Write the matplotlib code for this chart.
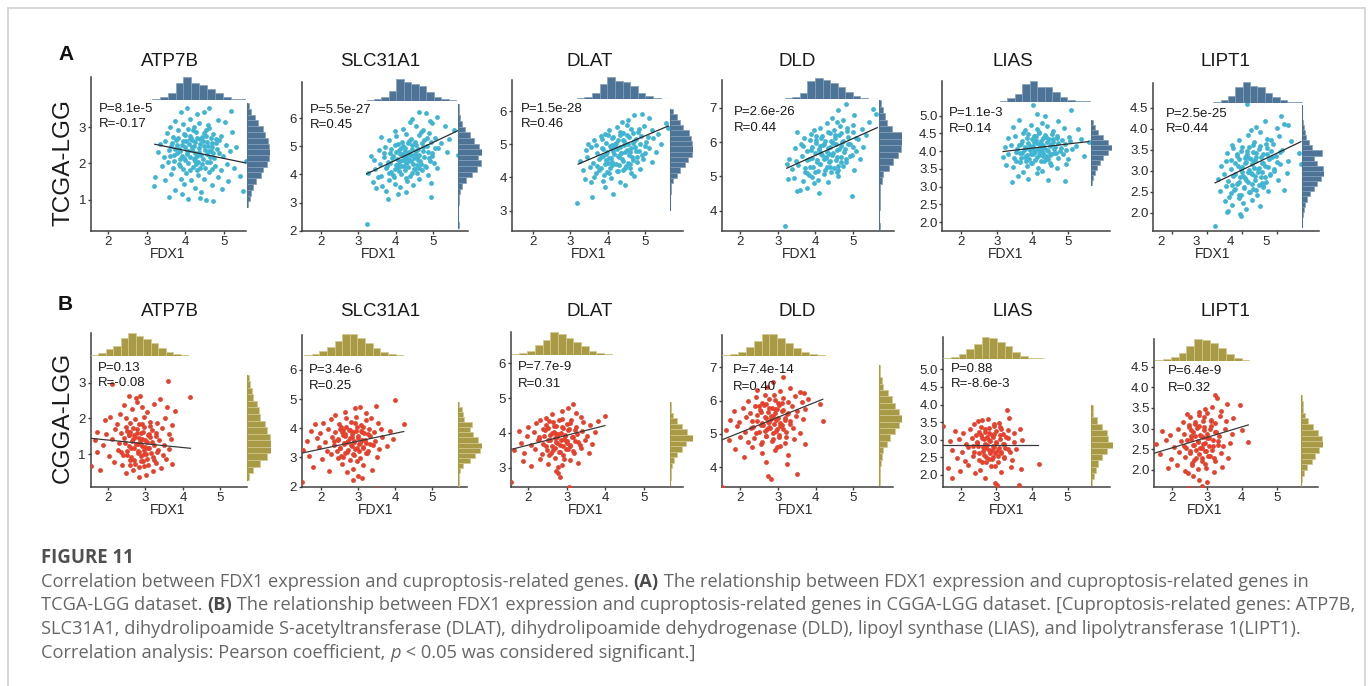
import numpy as np
import matplotlib
matplotlib.use("Agg")
import matplotlib.pyplot as plt
import matplotlib.transforms as mtransforms
from matplotlib.patches import Rectangle
from matplotlib.ticker import FormatStrFormatter

plt.rcParams['font.family'] = ['Liberation Sans', 'DejaVu Sans']

# ---------------------------------------------------------------- data
genes = ["ATP7B", "SLC31A1", "DLAT", "DLD", "LIAS", "LIPT1"]
row_names = ["TCGA-LGG", "CGGA-LGG"]
panel_letters = ["A", "B"]
x_label = "FDX1"
x_ticks = [2, 3, 4, 5]

tcga_p = ["8.1e-5", "5.5e-27", "1.5e-28", "2.6e-26", "1.1e-3", "2.5e-25"]
tcga_r = ["-0.17", "0.45", "0.46", "0.44", "0.14", "0.44"]
cgga_p = ["0.13", "3.4e-6", "7.7e-9", "7.4e-14", "0.88", "6.4e-9"]
cgga_r = ["-0.08", "0.25", "0.31", "0.40", "-8.6e-3", "0.32"]

tcga_yticks = [[1, 2, 3], [2, 3, 4, 5, 6], [3, 4, 5, 6], [4, 5, 6, 7],
               [2.0, 2.5, 3.0, 3.5, 4.0, 4.5, 5.0], [2.0, 2.5, 3.0, 3.5, 4.0, 4.5]]
cgga_yticks = [[1, 2, 3], [2, 3, 4, 5, 6], [3, 4, 5, 6], [4, 5, 6, 7],
               [2.0, 2.5, 3.0, 3.5, 4.0, 4.5, 5.0], [2.0, 2.5, 3.0, 3.5, 4.0, 4.5]]

# regression line end points
tcga_fit_x = [[3.21, 5.57], [3.22, 5.67], [3.21, 5.63], [3.24, 5.64], [3.18, 5.57], [3.24, 5.69]]
tcga_fit_y = [[2.53, 2.01], [4.02, 5.56], [4.40, 5.55], [5.24, 6.42], [3.99, 4.27], [2.71, 3.69]]
cgga_fit_x = [[1.54, 4.20], [1.48, 4.23], [1.57, 3.99], [1.52, 4.19], [1.48, 4.18], [1.48, 4.19]]
cgga_fit_y = [[1.44, 1.16], [3.15, 3.89], [3.53, 4.21], [4.82, 6.04], [2.85, 2.85], [2.40, 3.09]]

# marginal histograms (FDX1 on top, gene on the right)
tcga_xh_start = [3.13, 3.22, 3.17, 3.19, 3.09, 3.19]
tcga_xh_step = [0.205, 0.2, 0.205, 0.2, 0.21, 0.21]
tcga_xh_counts = [
    [3, 8, 22, 50, 68, 50, 45, 32, 20, 8, 4, 2],
    [3, 6, 12, 30, 65, 55, 50, 45, 25, 10, 5, 2],
    [3, 8, 20, 45, 65, 55, 52, 38, 20, 10, 4, 2],
    [3, 8, 20, 55, 63, 58, 50, 38, 22, 10, 4, 2, 1],
    [3, 10, 22, 52, 62, 45, 45, 30, 15, 6, 3, 2],
    [3, 8, 20, 48, 63, 50, 48, 30, 18, 8, 3, 2]]
tcga_yh_start = [0.79, 2.1, 3.02, 3.475, 3.05, 1.657]
tcga_yh_step = [0.16, 0.2, 0.16, 0.187, 0.14, 0.1216]
tcga_yh_counts = [
    [3, 8, 13, 18, 28, 40, 48, 58, 66, 68, 66, 63, 53, 48, 33, 23, 13, 5],
    [1, 0, 0, 0, 2, 3, 5, 10, 22, 40, 55, 68, 58, 70, 62, 48, 35, 20, 12, 6, 3, 2],
    [1, 1, 1, 2, 4, 10, 20, 30, 45, 55, 65, 68, 65, 62, 58, 40, 30, 20, 8],
    [1, 0, 0, 1, 1, 2, 2, 7, 12, 30, 42, 57, 64, 69, 67, 37, 22, 17, 12, 4],
    [3, 6, 13, 18, 28, 36, 53, 65, 53, 38, 23, 13, 8],
    [1, 1, 3, 6, 10, 15, 25, 35, 45, 55, 65, 62, 45, 35, 58, 30, 20, 12, 10, 8, 5, 2, 1, 1]]

cgga_xh_start = [1.54, 1.54, 1.57, 1.52, 1.5, 1.52]
cgga_xh_step = [0.2, 0.206, 0.2, 0.21, 0.216, 0.225]
cgga_xh_counts = [
    [3, 8, 20, 30, 55, 68, 60, 50, 38, 25, 12, 6, 3],
    [3, 6, 15, 28, 45, 65, 65, 55, 40, 25, 12, 5, 2],
    [2, 5, 12, 30, 45, 68, 62, 50, 38, 25, 12, 5, 2],
    [2, 5, 12, 28, 45, 65, 65, 55, 40, 25, 12, 5, 2],
    [2, 6, 15, 30, 45, 67, 63, 52, 38, 22, 10, 3, 2],
    [2, 5, 12, 25, 45, 65, 62, 55, 40, 22, 10, 3]]
cgga_yh_start = [0.28, 1.946, 2.5, 3.47, 1.71, 1.581]
cgga_yh_step = [0.184, 0.174, 0.16, 0.19, 0.175, 0.139]
cgga_yh_counts = [
    [6, 18, 38, 58, 68, 68, 66, 58, 50, 38, 33, 28, 18, 13, 8, 6],
    [1, 2, 3, 5, 15, 35, 50, 65, 70, 60, 45, 35, 40, 17, 13, 10, 3],
    [1, 2, 3, 6, 12, 22, 35, 48, 68, 52, 35, 22, 10, 4, 2],
    [2, 2, 3, 5, 8, 13, 23, 33, 48, 61, 68, 61, 48, 38, 28, 13, 8, 4, 2],
    [3, 10, 15, 22, 32, 47, 67, 52, 47, 32, 17, 7, 7],
    [1, 4, 9, 17, 32, 42, 55, 67, 62, 52, 37, 22, 12, 7, 5, 3]]

# scatter points (FDX1, gene)
tcga_atp7b = [
    (4.05, 3.52), (4.62, 3.54), (3.88, 3.41), (5.18, 3.45), (4.31, 3.36), (4.47, 3.42),
    (3.72, 3.18), (4.12, 3.24), (4.36, 3.12), (4.58, 3.05), (3.95, 3.08), (4.83, 3.21), (4.21, 3.02), (3.61, 3.01), (5.02, 3.14),
    (3.52, 2.84), (3.81, 2.92), (3.99, 2.78), (4.08, 2.95), (4.27, 2.86), (4.44, 2.74), (4.52, 2.91), (4.71, 2.82), (4.93, 2.77),
    (4.15, 2.71), (3.68, 2.73), (4.62, 2.98), (5.21, 2.88),
    (3.35, 2.55), (3.47, 2.63), (3.64, 2.48), (3.77, 2.66), (3.91, 2.52), (4.02, 2.61), (4.18, 2.45), (4.24, 2.58), (4.39, 2.67),
    (4.48, 2.49), (4.57, 2.60), (4.69, 2.44), (4.78, 2.57), (4.88, 2.65), (5.05, 2.51), (5.30, 2.46), (4.11, 2.68), (3.84, 2.41),
    (3.28, 2.31), (3.44, 2.18), (3.58, 2.36), (3.71, 2.22), (3.86, 2.33), (3.97, 2.14), (4.05, 2.27), (4.16, 2.38), (4.29, 2.20),
    (4.35, 2.31), (4.46, 2.12), (4.55, 2.26), (4.66, 2.35), (4.74, 2.16), (4.86, 2.29), (4.98, 2.21), (5.14, 2.34), (5.57, 2.08),
    (4.21, 2.11), (3.79, 2.29),
    (3.39, 1.92), (3.55, 2.04), (3.69, 1.86), (3.83, 1.98), (3.94, 1.84), (4.07, 2.02), (4.19, 1.90), (4.31, 1.81), (4.42, 1.97),
    (4.51, 1.88), (4.63, 2.05), (4.77, 1.93), (4.91, 1.83), (5.08, 1.99), (5.26, 1.87), (4.25, 2.07),
    (3.22, 1.62), (3.63, 1.71), (3.88, 1.58), (4.01, 1.74), (4.14, 1.55), (4.33, 1.68), (4.49, 1.57), (4.61, 1.76), (4.84, 1.63),
    (5.11, 1.52), (5.42, 1.66), (3.47, 1.53),
    (3.18, 1.38), (3.74, 1.27), (3.96, 1.44), (4.26, 1.31), (4.41, 1.22), (4.68, 1.41), (4.95, 1.29), (5.48, 1.24),
    (3.57, 1.06), (4.06, 1.02), (4.38, 1.05), (4.52, 0.99), (4.72, 0.97), (3.92, 1.15)]
tcga_atp7b_core = [
    (3.66, 2.57), (3.74, 2.39), (3.82, 2.71), (3.90, 2.21), (3.93, 2.62), (3.98, 2.44), (4.03, 2.35), (4.09, 2.53), (4.13, 2.19),
    (4.17, 2.64), (4.22, 2.48), (4.26, 2.29), (4.30, 2.71), (4.34, 2.42), (4.37, 2.55), (4.41, 2.24), (4.45, 2.63), (4.50, 2.38),
    (4.54, 2.77), (4.59, 2.47), (4.63, 2.18), (4.68, 2.56), (4.72, 2.29), (4.79, 2.68), (4.82, 2.41), (3.71, 2.06), (3.87, 1.93),
    (4.00, 2.09), (4.11, 1.81), (4.28, 1.99), (4.39, 1.88), (4.56, 2.03), (4.70, 1.84), (3.96, 2.82), (4.19, 2.91), (4.47, 2.85),
    (3.79, 2.50), (4.08, 2.33), (4.24, 2.16), (4.60, 2.33), (3.85, 2.12), (4.33, 2.05), (4.12, 2.76), (4.66, 2.71), (3.59, 2.21)]

tcga_slc31a1 = [
    (4.62, 6.21), (4.81, 6.18), (4.45, 5.98), (5.12, 6.05), (4.93, 5.92),
    (4.21, 5.62), (4.55, 5.71), (4.74, 5.58), (4.98, 5.83), (5.31, 5.74), (4.38, 5.86), (5.55, 5.60), (4.67, 5.52), (3.98, 5.55),
    (3.81, 5.22), (4.02, 5.36), (4.17, 5.14), (4.29, 5.45), (4.41, 5.28), (4.52, 5.17), (4.63, 5.39), (4.76, 5.24), (4.89, 5.48),
    (5.05, 5.31), (5.22, 5.12), (4.33, 5.11), (3.62, 5.35), (5.42, 5.27), (4.95, 5.15),
    (3.55, 4.86), (3.72, 4.98), (3.86, 4.75), (3.97, 5.04), (4.08, 4.88), (4.16, 4.72), (4.25, 4.95), (4.36, 4.81), (4.44, 5.06),
    (4.53, 4.74), (4.61, 4.92), (4.72, 4.85), (4.84, 5.02), (4.97, 4.78), (5.13, 4.93), (5.37, 4.80), (5.66, 4.71), (4.28, 4.70), (4.02, 4.79),
    (3.42, 4.52), (3.58, 4.38), (3.69, 4.61), (3.80, 4.44), (3.91, 4.57), (4.01, 4.33), (4.11, 4.49), (4.19, 4.64), (4.27, 4.41),
    (4.35, 4.55), (4.47, 4.36), (4.56, 4.62), (4.66, 4.47), (4.79, 4.31), (4.90, 4.58), (5.02, 4.40), (3.33, 4.65), (4.42, 4.68), (4.23, 4.31),
    (3.27, 4.05), (3.46, 4.18), (3.61, 3.96), (3.75, 4.22), (3.88, 4.08), (3.96, 3.92), (4.06, 4.26), (4.14, 4.02), (4.24, 4.15),
    (4.38, 3.94), (4.49, 4.21), (4.58, 4.06), (4.71, 4.17), (4.86, 3.98), (5.10, 4.24), (3.52, 3.91),
    (3.38, 3.72), (3.64, 3.58), (3.83, 3.81), (3.99, 3.66), (4.12, 3.54), (4.31, 3.77), (4.46, 3.62), (4.62, 3.85), (4.96, 3.70), (3.48, 3.52),
    (3.74, 3.41), (4.28, 3.38), (3.79, 3.12), (4.96, 3.21), (4.05, 3.29), (3.22, 2.24)]
tcga_slc31a1_core = [
    (3.85, 4.42), (3.92, 4.66), (3.98, 4.21), (4.03, 4.55), (4.07, 4.38), (4.12, 4.73), (4.15, 4.29), (4.20, 4.51), (4.24, 4.84),
    (4.29, 4.60), (4.33, 4.25), (4.37, 4.72), (4.40, 4.47), (4.43, 4.91), (4.48, 4.59), (4.51, 4.18), (4.55, 4.82), (4.59, 4.50),
    (4.63, 4.71), (4.68, 4.39), (4.72, 4.97), (4.77, 4.62), (4.81, 4.28), (4.87, 4.80), (4.93, 4.49), (3.76, 4.31), (3.81, 4.06),
    (3.94, 3.98), (4.10, 4.11), (4.27, 3.88), (4.45, 4.05), (4.62, 4.24), (4.19, 5.00), (4.35, 5.18), (4.54, 5.06), (4.70, 5.12),
    (4.85, 5.30), (3.68, 4.78), (3.88, 4.90), (4.06, 5.09), (4.98, 4.67), (5.06, 4.95), (4.31, 4.43), (4.58, 4.34), (4.14, 4.95)]

tcga_dlat = [
    (4.72, 5.88), (4.92, 5.91), (4.55, 5.72), (5.12, 5.78), (4.38, 5.66), (5.56, 5.63),
    (4.05, 5.42), (4.24, 5.51), (4.41, 5.33), (4.63, 5.47), (4.81, 5.38), (4.97, 5.55), (5.18, 5.44), (5.35, 5.31), (4.52, 5.58),
    (3.92, 5.32), (5.63, 5.48),
    (3.64, 5.12), (3.81, 5.24), (3.95, 5.05), (4.11, 5.18), (4.20, 5.02), (4.33, 5.27), (4.45, 5.11), (4.57, 5.21), (4.68, 5.04),
    (4.76, 5.16), (4.89, 5.26), (5.02, 5.08), (5.21, 5.19), (5.44, 5.02), (4.28, 5.13), (3.48, 5.01),
    (3.41, 4.82), (3.56, 4.93), (3.71, 4.74), (3.85, 4.88), (3.97, 4.71), (4.07, 4.96), (4.15, 4.79), (4.26, 4.87), (4.36, 4.73),
    (4.44, 4.98), (4.53, 4.84), (4.61, 4.76), (4.73, 4.92), (4.85, 4.81), (4.99, 4.74), (5.11, 4.89), (5.31, 4.78), (4.19, 4.95),
    (3.27, 4.48), (3.46, 4.61), (3.60, 4.42), (3.76, 4.55), (3.89, 4.65), (4.01, 4.44), (4.10, 4.58), (4.22, 4.41), (4.31, 4.62),
    (4.42, 4.50), (4.55, 4.43), (4.66, 4.60), (4.80, 4.47), (4.94, 4.56), (5.20, 4.45), (3.95, 4.52),
    (3.33, 4.22), (3.52, 4.31), (3.68, 4.14), (3.82, 4.27), (3.99, 4.17), (4.13, 4.36), (4.29, 4.19), (4.47, 4.28), (4.64, 4.13),
    (4.88, 4.25), (4.05, 4.12),
    (3.39, 3.94), (3.64, 4.02), (3.87, 3.88), (4.08, 3.97), (4.34, 3.85), (4.72, 4.05), (3.55, 3.86),
    (3.57, 3.41), (4.15, 3.50), (3.17, 3.23), (3.93, 3.70), (4.48, 3.76)]
tcga_dlat_core = [
    (3.82, 4.62), (3.88, 4.85), (3.93, 4.39), (3.99, 4.77), (4.04, 4.58), (4.09, 4.89), (4.13, 4.47), (4.18, 4.71), (4.22, 5.04),
    (4.27, 4.64), (4.30, 4.38), (4.34, 4.91), (4.38, 4.55), (4.41, 5.12), (4.46, 4.77), (4.50, 4.34), (4.54, 5.01), (4.58, 4.66),
    (4.62, 4.88), (4.67, 4.52), (4.71, 5.10), (4.75, 4.79), (4.80, 4.61), (4.86, 5.02), (4.92, 4.68), (3.72, 4.35), (3.78, 4.21),
    (3.91, 4.08), (4.06, 4.27), (4.24, 4.18), (4.42, 4.21), (4.59, 4.39), (4.15, 5.22), (4.33, 5.38), (4.52, 5.29), (4.69, 5.34),
    (4.84, 5.45), (3.68, 4.98), (3.86, 5.15), (4.02, 5.27), (5.00, 4.95), (5.08, 5.21), (4.36, 4.74), (4.60, 4.29), (4.12, 4.98)]

tcga_dld = [
    (4.82, 7.12), (4.61, 6.92), (5.52, 6.95), (4.43, 6.71), (5.02, 6.78), (5.61, 6.82), (4.72, 6.64),
    (4.12, 6.42), (4.31, 6.55), (4.49, 6.36), (4.66, 6.48), (4.84, 6.33), (5.01, 6.51), (5.23, 6.39), (5.41, 6.57), (3.96, 6.35), (4.57, 6.58),
    (3.71, 6.12), (3.88, 6.24), (4.02, 6.05), (4.17, 6.19), (4.26, 6.02), (4.38, 6.27), (4.51, 6.11), (4.62, 6.21), (4.74, 6.04),
    (4.86, 6.16), (4.99, 6.28), (5.14, 6.09), (5.33, 6.20), (3.52, 6.28), (4.45, 6.01),
    (3.46, 5.82), (3.62, 5.93), (3.77, 5.74), (3.90, 5.87), (4.01, 5.97), (4.09, 5.78), (4.21, 5.91), (4.30, 5.72), (4.39, 5.85),
    (4.48, 5.96), (4.57, 5.76), (4.67, 5.89), (4.79, 5.81), (4.92, 5.95), (5.07, 5.73), (5.25, 5.86), (4.13, 5.71),
    (3.30, 5.52), (3.49, 5.44), (3.65, 5.61), (3.79, 5.47), (3.92, 5.55), (4.04, 5.42), (4.14, 5.66), (4.24, 5.51), (4.35, 5.43),
    (4.44, 5.62), (4.54, 5.49), (4.68, 5.57), (4.82, 5.41), (4.97, 5.63), (5.18, 5.50), (4.28, 5.58),
    (3.38, 5.21), (3.55, 5.33), (3.72, 5.14), (3.86, 5.27), (4.00, 5.12), (4.11, 5.36), (4.26, 5.19), (4.40, 5.29), (4.58, 5.13),
    (4.73, 5.31), (5.03, 5.20), (3.24, 5.36),
    (3.43, 4.95), (3.67, 4.86), (3.82, 5.04), (4.06, 4.91), (4.33, 4.84), (4.61, 5.02), (3.95, 4.81), (3.28, 4.92),
    (3.58, 4.62), (3.50, 4.58), (4.09, 4.51), (3.77, 4.66), (4.96, 4.43), (3.20, 3.56)]
tcga_dld_core = [
    (3.82, 5.52), (3.88, 5.76), (3.93, 5.29), (3.99, 5.67), (4.04, 5.48), (4.09, 5.81), (4.13, 5.37), (4.18, 5.62), (4.22, 5.95),
    (4.27, 5.55), (4.30, 5.28), (4.34, 5.83), (4.38, 5.46), (4.41, 6.04), (4.46, 5.68), (4.50, 5.25), (4.54, 5.93), (4.58, 5.57),
    (4.62, 5.79), (4.67, 5.43), (4.71, 6.01), (4.75, 5.70), (4.80, 5.52), (4.86, 5.94), (4.92, 5.59), (3.72, 5.26), (3.78, 5.11),
    (3.91, 4.98), (4.06, 5.17), (4.24, 5.08), (4.42, 5.12), (4.59, 5.30), (4.15, 6.13), (4.33, 6.30), (4.52, 6.20), (4.69, 6.26),
    (4.84, 6.42), (3.68, 5.89), (3.86, 6.06), (4.02, 6.18), (5.00, 5.86), (5.08, 6.12), (4.36, 5.65), (4.60, 5.18), (4.12, 5.89)]

tcga_lias = [
    (4.03, 5.31), (5.07, 5.17), (4.35, 4.98), (3.62, 4.88), (4.71, 4.85), (4.12, 5.04),
    (3.45, 4.68), (3.78, 4.61), (3.96, 4.74), (4.18, 4.55), (4.41, 4.71), (4.59, 4.58), (4.88, 4.66), (5.28, 4.62), (4.27, 4.79),
    (3.31, 4.36), (3.52, 4.43), (3.71, 4.29), (3.87, 4.47), (3.99, 4.33), (4.11, 4.42), (4.23, 4.28), (4.34, 4.46), (4.47, 4.35),
    (4.58, 4.27), (4.70, 4.44), (4.84, 4.31), (5.02, 4.41), (5.36, 4.33), (5.58, 4.26), (4.05, 4.26),
    (3.24, 4.11), (3.39, 4.18), (3.58, 4.05), (3.69, 4.21), (3.83, 4.08), (3.94, 4.16), (4.04, 4.02), (4.14, 4.22), (4.25, 4.09),
    (4.31, 4.17), (4.42, 4.04), (4.53, 4.20), (4.63, 4.11), (4.76, 4.01), (4.90, 4.19), (5.10, 4.07), (5.22, 4.15), (3.76, 4.03), (4.20, 4.13),
    (3.18, 3.85), (3.33, 3.93), (3.49, 3.81), (3.64, 3.96), (3.79, 3.84), (3.91, 3.78), (4.01, 3.92), (4.12, 3.83), (4.22, 3.97),
    (4.37, 3.79), (4.49, 3.88), (4.61, 3.95), (4.73, 3.82), (4.85, 3.91), (5.00, 3.77), (5.45, 3.86), (4.29, 3.86),
    (3.27, 3.62), (3.47, 3.55), (3.66, 3.69), (3.84, 3.58), (3.98, 3.66), (4.17, 3.53), (4.33, 3.71), (4.52, 3.60), (4.69, 3.52),
    (4.93, 3.64), (3.55, 3.72),
    (3.42, 3.14), (3.61, 3.31), (3.89, 3.22), (4.13, 3.38), (4.45, 3.19), (4.90, 3.17), (4.28, 3.44), (3.74, 3.42)]
tcga_lias_core = [
    (3.72, 3.95), (3.78, 4.12), (3.84, 3.88), (3.89, 4.24), (3.93, 4.03), (3.97, 3.91), (4.02, 4.15), (4.06, 3.97), (4.10, 4.31),
    (4.15, 4.06), (4.18, 3.89), (4.22, 4.21), (4.26, 3.99), (4.29, 4.37), (4.33, 4.10), (4.37, 3.86), (4.41, 4.27), (4.45, 4.01),
    (4.49, 4.16), (4.53, 3.92), (4.57, 4.33), (4.61, 4.06), (4.66, 3.96), (4.72, 4.24), (4.79, 4.09), (3.62, 4.18), (3.68, 3.80),
    (3.81, 3.73), (3.95, 3.68), (4.08, 3.76), (4.24, 3.72), (4.43, 3.78), (4.04, 4.44), (4.19, 4.52), (4.38, 4.41), (4.55, 4.49),
    (4.68, 4.38), (3.55, 3.99), (3.86, 4.38), (4.95, 4.03), (5.05, 4.28), (4.31, 3.94), (4.50, 3.67), (3.75, 4.50), (4.13, 4.62)]

tcga_lipt1 = [
    (4.14, 4.58), (5.11, 4.31), (5.22, 4.12), (5.31, 4.08), (4.42, 4.05), (4.66, 4.19), (5.02, 4.02),
    (3.92, 3.72), (4.18, 3.85), (4.35, 3.68), (4.52, 3.91), (4.71, 3.76), (4.88, 3.64), (5.06, 3.83), (5.42, 3.71), (4.27, 3.97), (3.71, 3.61),
    (3.58, 3.42), (3.74, 3.54), (3.87, 3.36), (3.99, 3.48), (4.09, 3.31), (4.21, 3.57), (4.31, 3.44), (4.40, 3.33), (4.49, 3.52),
    (4.61, 3.39), (4.73, 3.55), (4.85, 3.46), (4.98, 3.34), (5.15, 3.50), (5.63, 3.41), (4.14, 3.40),
    (3.41, 3.12), (3.56, 3.24), (3.69, 3.05), (3.82, 3.18), (3.93, 3.27), (4.02, 3.08), (4.12, 3.21), (4.22, 3.02), (4.30, 3.15),
    (4.39, 3.26), (4.48, 3.06), (4.57, 3.19), (4.67, 3.11), (4.79, 3.28), (4.92, 3.03), (5.08, 3.16), (5.31, 3.22), (5.69, 3.17), (4.26, 3.29),
    (3.33, 2.81), (3.49, 2.93), (3.62, 2.75), (3.76, 2.88), (3.89, 2.71), (4.00, 2.96), (4.10, 2.82), (4.19, 2.74), (4.29, 2.91),
    (4.37, 2.78), (4.46, 2.97), (4.55, 2.85), (4.68, 2.72), (4.81, 2.89), (5.03, 2.78), (5.29, 2.94), (3.95, 2.86),
    (3.39, 2.52), (3.55, 2.64), (3.68, 2.46), (3.81, 2.57), (3.97, 2.43), (4.07, 2.61), (4.20, 2.49), (4.33, 2.56), (4.45, 2.42),
    (4.60, 2.66), (4.76, 2.51), (5.21, 2.53), (3.87, 2.68),
    (3.52, 2.28), (3.73, 2.19), (3.91, 2.34), (4.05, 2.22), (4.28, 2.31), (4.52, 2.16), (3.64, 2.37),
    (3.62, 2.05), (3.57, 2.01), (3.96, 1.96), (3.99, 1.92), (3.24, 1.68), (4.12, 2.08)]
tcga_lipt1_core = [
    (3.82, 2.91), (3.88, 3.12), (3.93, 2.72), (3.99, 3.04), (4.04, 2.88), (4.09, 3.19), (4.13, 2.78), (4.18, 2.98), (4.22, 3.31),
    (4.27, 2.94), (4.30, 2.69), (4.34, 3.22), (4.38, 2.87), (4.41, 3.41), (4.46, 3.05), (4.50, 2.66), (4.54, 3.32), (4.58, 2.97),
    (4.62, 3.19), (4.67, 2.84), (4.71, 3.40), (4.75, 3.08), (4.80, 2.92), (4.86, 3.33), (4.92, 2.99), (3.72, 2.67), (3.78, 2.53),
    (3.91, 2.41), (4.06, 2.59), (4.24, 2.50), (4.42, 2.55), (4.59, 2.71), (4.15, 3.47), (4.33, 3.62), (4.52, 3.58), (4.69, 3.64),
    (4.84, 3.74), (3.68, 3.26), (3.86, 3.39), (4.02, 3.56), (5.00, 3.20), (5.08, 3.45), (4.36, 3.07), (4.60, 2.60), (4.12, 3.36)]

cgga_atp7b = [
    (3.59, 3.05), (2.10, 2.95), (4.20, 2.61), (2.55, 2.62), (2.75, 2.58), (2.86, 2.62), (3.38, 2.54),
    (2.42, 2.38), (2.63, 2.25), (2.78, 2.45), (2.91, 2.31), (3.05, 2.18), (3.24, 2.41), (3.79, 2.20), (2.31, 2.12), (3.58, 2.32),
    (1.92, 1.95), (2.24, 1.84), (2.47, 2.02), (2.59, 1.88), (2.71, 1.97), (2.84, 1.83), (2.96, 2.05), (3.11, 1.91), (3.32, 1.86),
    (3.51, 2.01), (2.05, 2.04), (3.70, 1.82),
    (1.70, 1.62), (1.95, 1.55), (2.18, 1.71), (2.36, 1.58), (2.49, 1.75), (2.60, 1.63), (2.69, 1.52), (2.77, 1.69), (2.88, 1.60),
    (2.97, 1.76), (3.06, 1.54), (3.18, 1.67), (3.29, 1.58), (3.44, 1.72), (3.62, 1.55), (2.55, 1.52),
    (1.65, 1.38), (1.86, 1.25), (2.12, 1.42), (2.30, 1.31), (2.44, 1.46), (2.56, 1.22), (2.65, 1.37), (2.73, 1.48), (2.81, 1.28),
    (2.90, 1.41), (2.98, 1.21), (3.04, 1.35), (3.13, 1.47), (3.22, 1.26), (3.35, 1.39), (3.49, 1.24), (3.67, 1.43), (2.86, 1.33),
    (1.72, 1.05), (2.03, 0.95), (2.26, 1.12), (2.40, 0.98), (2.52, 1.08), (2.61, 0.92), (2.70, 1.16), (2.79, 1.02), (2.87, 0.94),
    (2.95, 1.11), (3.02, 0.99), (3.10, 1.18), (3.19, 0.91), (3.31, 1.06), (3.46, 0.97), (3.63, 1.13), (2.84, 1.07),
    (1.55, 0.65), (1.80, 0.55), (2.16, 0.78), (2.38, 0.69), (2.58, 0.84), (2.72, 0.72), (2.83, 0.63), (2.93, 0.81), (3.08, 0.68),
    (3.27, 0.76), (3.42, 0.62), (3.71, 0.72), (3.55, 0.85),
    (2.84, 0.35), (2.47, 0.48), (3.20, 0.52), (3.01, 0.41), (2.66, 0.55)]
cgga_atp7b_core = [
    (2.45, 1.31), (2.51, 0.96), (2.56, 1.52), (2.62, 1.18), (2.66, 1.41), (2.70, 0.84), (2.74, 1.27), (2.78, 1.58), (2.80, 1.09),
    (2.83, 1.45), (2.87, 0.79), (2.90, 1.22), (2.93, 1.62), (2.96, 1.01), (3.00, 1.38), (3.03, 0.87), (3.06, 1.16), (3.10, 1.57),
    (3.14, 1.04), (3.18, 1.33), (3.22, 0.83), (3.27, 1.51), (2.68, 1.72), (2.92, 1.85), (3.12, 1.79), (2.58, 0.70), (2.97, 0.66),
    (2.50, 1.65), (3.33, 1.12), (2.34, 1.05)]

cgga_slc31a1 = [
    (4.00, 4.97), (3.48, 4.78), (2.92, 4.68), (3.05, 4.72), (2.65, 4.55), (3.21, 4.51), (2.38, 4.45),
    (2.05, 4.18), (2.28, 4.31), (2.49, 4.14), (2.68, 4.35), (2.81, 4.22), (2.95, 4.38), (3.08, 4.12), (3.22, 4.27), (3.36, 4.36),
    (3.53, 4.19), (4.23, 4.15), (1.85, 4.16),
    (1.72, 3.92), (1.98, 3.84), (2.20, 3.99), (2.39, 3.88), (2.54, 4.04), (2.66, 3.82), (2.76, 3.95), (2.87, 3.86), (2.97, 4.06),
    (3.07, 3.91), (3.17, 3.83), (3.29, 3.98), (3.42, 3.87), (3.61, 3.96), (3.85, 3.90), (2.60, 3.93),
    (1.61, 3.58), (1.89, 3.66), (2.11, 3.52), (2.30, 3.71), (2.45, 3.59), (2.58, 3.77), (2.70, 3.54), (2.79, 3.68), (2.89, 3.55),
    (2.99, 3.74), (3.10, 3.61), (3.20, 3.51), (3.31, 3.72), (3.46, 3.57), (3.65, 3.69), (3.94, 3.62), (2.84, 3.79),
    (1.52, 3.27), (1.95, 3.36), (2.17, 3.22), (2.35, 3.44), (2.50, 3.31), (2.62, 3.47), (2.73, 3.24), (2.83, 3.39), (2.92, 3.28),
    (3.03, 3.45), (3.14, 3.33), (3.26, 3.21), (3.39, 3.42), (3.57, 3.29), (3.77, 3.38), (2.44, 3.21),
    (1.69, 3.05), (2.02, 2.94), (2.26, 3.12), (2.47, 2.98), (2.64, 3.15), (2.78, 2.92), (2.90, 3.08), (3.06, 2.97), (3.24, 3.14),
    (3.50, 3.02), (2.55, 3.05),
    (1.78, 2.68), (2.21, 2.55), (2.57, 2.77), (2.86, 2.61), (3.12, 2.74), (3.38, 2.58), (2.71, 2.52),
    (1.48, 2.17), (3.52, 1.93), (3.10, 2.30), (2.86, 2.22), (2.99, 2.35)]
cgga_slc31a1_core = [
    (2.45, 3.62), (2.51, 3.34), (2.56, 3.86), (2.62, 3.51), (2.66, 3.73), (2.70, 3.19), (2.74, 3.58), (2.78, 3.95), (2.80, 3.42),
    (2.83, 3.71), (2.87, 3.12), (2.90, 3.52), (2.93, 3.92), (2.96, 3.33), (3.00, 3.66), (3.03, 3.22), (3.06, 3.48), (3.10, 3.87),
    (3.14, 3.36), (3.18, 3.61), (3.22, 3.17), (3.27, 3.82), (2.68, 4.06), (2.92, 4.18), (3.12, 4.05), (2.58, 3.02), (2.97, 2.88),
    (2.50, 3.98), (3.33, 3.46), (2.34, 3.55)]

cgga_dlat = [
    (3.15, 4.82), (2.88, 4.62), (3.02, 4.71), (2.61, 4.55), (3.38, 4.47), (4.00, 4.50), (2.45, 4.42), (3.25, 4.58),
    (1.98, 4.16), (2.21, 4.28), (2.39, 4.12), (2.55, 4.33), (2.68, 4.20), (2.79, 4.36), (2.90, 4.14), (3.01, 4.27), (3.12, 4.38),
    (3.24, 4.18), (3.41, 4.31), (3.60, 4.22), (3.82, 4.35), (2.31, 4.38),
    (1.75, 4.05), (1.96, 3.92), (2.14, 4.02), (2.29, 3.88), (2.44, 4.07), (2.57, 3.94), (2.66, 4.04), (2.75, 3.89), (2.84, 4.01),
    (2.94, 3.92), (3.04, 4.08), (3.15, 3.87), (3.27, 3.98), (3.39, 4.06), (3.53, 3.90), (3.72, 4.02), (2.71, 3.97),
    (1.82, 3.72), (2.06, 3.64), (2.25, 3.79), (2.38, 3.68), (2.51, 3.81), (2.62, 3.62), (2.73, 3.74), (2.82, 3.66), (2.92, 3.83),
    (3.01, 3.70), (3.09, 3.61), (3.20, 3.77), (3.33, 3.65), (3.47, 3.79), (3.66, 3.68), (2.97, 3.76),
    (1.64, 3.52), (1.90, 3.42), (2.17, 3.55), (2.35, 3.38), (2.48, 3.51), (2.59, 3.41), (2.70, 3.57), (2.80, 3.45), (2.90, 3.37),
    (3.03, 3.53), (3.18, 3.43), (3.36, 3.56), (3.58, 3.41),
    (1.86, 3.18), (2.08, 3.05), (2.31, 3.24), (2.52, 3.11), (2.69, 3.29), (2.87, 3.08), (3.07, 3.21), (3.29, 3.13), (2.76, 3.02),
    (2.78, 2.84), (2.83, 2.74), (2.72, 2.90), (1.55, 2.58), (3.06, 2.44)]
cgga_dlat_core = [
    (2.40, 3.91), (2.46, 3.62), (2.51, 4.13), (2.57, 3.79), (2.61, 4.01), (2.65, 3.51), (2.69, 3.86), (2.73, 4.20), (2.75, 3.70),
    (2.78, 3.97), (2.82, 3.44), (2.85, 3.81), (2.88, 4.17), (2.91, 3.63), (2.95, 3.93), (2.98, 3.53), (3.01, 3.77), (3.05, 4.12),
    (3.09, 3.66), (3.13, 3.89), (3.17, 3.48), (3.22, 4.07), (2.63, 4.30), (2.87, 4.41), (3.07, 4.29), (2.53, 3.36), (2.92, 3.24),
    (2.45, 4.23), (3.28, 3.74), (2.29, 3.82)]

cgga_dld = [
    (3.15, 6.72), (2.88, 6.55), (2.72, 6.42), (3.32, 6.38), (3.05, 6.28), (3.58, 6.25), (2.45, 6.31), (3.70, 6.22),
    (2.21, 5.98), (2.42, 6.12), (2.58, 5.94), (2.76, 6.06), (2.89, 6.16), (3.01, 5.92), (3.14, 6.09), (3.28, 5.97), (3.45, 6.13),
    (3.63, 5.96), (3.81, 6.04), (4.12, 5.91), (2.67, 6.18),
    (1.83, 5.68), (2.08, 5.77), (2.27, 5.62), (2.40, 5.84), (2.53, 5.71), (2.64, 5.88), (2.74, 5.65), (2.84, 5.79), (2.93, 5.63),
    (3.03, 5.86), (3.13, 5.72), (3.24, 5.61), (3.37, 5.83), (3.52, 5.69), (3.71, 5.76), (2.98, 5.75),
    (1.74, 5.42), (1.97, 5.35), (2.16, 5.51), (2.32, 5.38), (2.46, 5.56), (2.57, 5.33), (2.68, 5.48), (2.78, 5.36), (2.87, 5.54),
    (2.96, 5.41), (3.06, 5.32), (3.18, 5.49), (3.31, 5.38), (3.47, 5.55), (3.66, 5.44), (4.20, 5.39), (2.83, 5.45),
    (1.63, 5.12), (1.92, 5.23), (2.12, 5.05), (2.29, 5.18), (2.43, 5.02), (2.55, 5.27), (2.66, 5.09), (2.77, 5.21), (2.88, 5.04),
    (2.99, 5.16), (3.10, 5.28), (3.22, 5.07), (3.39, 5.19), (3.58, 5.03), (2.71, 5.14),
    (1.72, 4.82), (2.01, 4.91), (2.22, 4.75), (2.38, 4.88), (2.55, 4.71), (2.70, 4.95), (2.86, 4.79), (3.02, 4.92), (3.19, 4.74),
    (3.43, 4.86), (3.71, 4.70),
    (1.86, 4.56), (2.11, 4.32), (2.33, 4.61), (2.58, 4.42), (2.92, 4.51), (3.26, 4.38), (3.05, 4.64),
    (2.81, 3.65), (2.75, 3.74), (3.50, 3.79), (3.25, 4.10), (2.68, 4.15), (1.52, 3.42)]
cgga_dld_core = [
    (2.45, 5.40), (2.51, 5.05), (2.56, 5.66), (2.62, 5.27), (2.66, 5.52), (2.70, 4.93), (2.74, 5.36), (2.78, 5.77), (2.80, 5.19),
    (2.83, 5.53), (2.87, 4.86), (2.90, 5.31), (2.93, 5.74), (2.96, 5.10), (3.00, 5.47), (3.03, 4.97), (3.06, 5.25), (3.10, 5.69),
    (3.14, 5.14), (3.18, 5.41), (3.22, 4.91), (3.27, 5.63), (2.68, 5.90), (2.92, 6.02), (3.12, 5.92), (2.58, 4.75), (2.97, 4.62),
    (2.50, 5.83), (3.33, 5.29), (2.34, 5.22)]

cgga_lias = [
    (3.29, 3.84), (2.60, 3.55), (2.49, 3.52), (2.75, 3.58), (3.08, 3.48), (3.35, 3.62), (2.38, 3.44), (1.48, 3.40), (2.92, 3.45),
    (2.05, 3.18), (2.25, 3.29), (2.41, 3.14), (2.56, 3.35), (2.68, 3.21), (2.78, 3.32), (2.88, 3.12), (2.98, 3.26), (3.09, 3.37),
    (3.19, 3.16), (3.32, 3.28), (3.48, 3.19), (3.66, 3.31), (1.82, 3.25),
    (1.68, 2.95), (1.95, 3.02), (2.14, 2.89), (2.30, 3.06), (2.45, 2.93), (2.58, 3.04), (2.69, 2.88), (2.79, 2.99), (2.89, 3.08),
    (2.99, 2.91), (3.09, 3.01), (3.20, 2.87), (3.33, 3.05), (3.49, 2.94), (3.71, 2.98), (2.74, 3.08),
    (1.75, 2.72), (2.02, 2.66), (2.20, 2.79), (2.36, 2.64), (2.49, 2.81), (2.61, 2.68), (2.71, 2.76), (2.81, 2.62), (2.92, 2.80),
    (3.02, 2.69), (3.12, 2.61), (3.24, 2.77), (3.38, 2.66), (3.56, 2.74), (2.86, 2.71),
    (1.88, 2.48), (2.12, 2.39), (2.34, 2.55), (2.50, 2.42), (2.64, 2.57), (2.78, 2.44), (2.91, 2.52), (3.05, 2.37), (3.22, 2.50),
    (3.45, 2.41), (2.70, 2.36),
    (1.63, 2.21), (1.97, 2.12), (2.21, 2.28), (2.54, 2.15), (2.84, 2.26), (3.13, 2.08), (3.42, 2.22), (4.21, 2.30), (3.68, 2.18), (2.40, 2.05),
    (3.63, 1.70), (2.95, 1.78), (3.02, 1.72), (2.67, 1.91), (1.76, 1.92)]
cgga_lias_core = [
    (2.45, 2.91), (2.51, 2.62), (2.56, 3.13), (2.62, 2.79), (2.66, 3.01), (2.70, 2.51), (2.74, 2.86), (2.78, 3.20), (2.80, 2.70),
    (2.83, 2.97), (2.87, 2.44), (2.90, 2.81), (2.93, 3.17), (2.96, 2.63), (3.00, 2.93), (3.03, 2.53), (3.06, 2.77), (3.10, 3.12),
    (3.14, 2.66), (3.18, 2.89), (3.22, 2.48), (3.27, 3.07), (2.68, 3.30), (2.92, 3.38), (3.12, 3.29), (2.58, 2.36), (2.97, 2.24),
    (2.50, 3.23), (3.33, 2.74), (2.34, 2.82)]

cgga_lipt1 = [
    (3.24, 3.81), (3.30, 3.74), (3.57, 3.60), (3.95, 3.58), (2.96, 3.47), (3.14, 3.52), (3.42, 3.43), (2.78, 3.41),
    (2.32, 3.16), (2.52, 3.28), (2.66, 3.12), (2.79, 3.33), (2.90, 3.19), (3.01, 3.37), (3.12, 3.22), (3.25, 3.14), (3.38, 3.31),
    (3.55, 3.18), (3.76, 3.26), (2.44, 3.35),
    (1.73, 2.95), (1.95, 2.85), (2.17, 2.98), (2.35, 2.87), (2.49, 3.05), (2.61, 2.91), (2.72, 3.02), (2.82, 2.84), (2.92, 2.97),
    (3.02, 2.88), (3.12, 3.06), (3.23, 2.93), (3.36, 2.82), (3.52, 2.99), (3.72, 2.87), (4.00, 2.96), (2.56, 2.81),
    (1.55, 2.62), (1.85, 2.72), (2.07, 2.56), (2.26, 2.69), (2.41, 2.54), (2.54, 2.75), (2.65, 2.61), (2.76, 2.71), (2.86, 2.53),
    (2.96, 2.66), (3.07, 2.77), (3.18, 2.58), (3.31, 2.70), (3.47, 2.57), (3.67, 2.66), (4.19, 2.68), (2.90, 2.79),
    (1.66, 2.38), (1.98, 2.27), (2.21, 2.44), (2.38, 2.31), (2.52, 2.46), (2.65, 2.23), (2.77, 2.39), (2.88, 2.28), (2.99, 2.47),
    (3.10, 2.34), (3.24, 2.21), (3.41, 2.42), (3.60, 2.30), (2.70, 2.48),
    (1.89, 2.05), (2.15, 2.12), (2.37, 1.98), (2.58, 2.16), (2.76, 2.02), (2.95, 2.14), (3.20, 1.96), (3.45, 2.08), (2.48, 1.92),
    (2.50, 1.56), (2.62, 1.85), (2.78, 1.76), (3.00, 1.72), (2.86, 1.60)]
cgga_lipt1_core = [
    (2.45, 2.72), (2.51, 2.41), (2.56, 2.96), (2.62, 2.60), (2.66, 2.83), (2.70, 2.29), (2.74, 2.68), (2.78, 3.06), (2.80, 2.52),
    (2.83, 2.81), (2.87, 2.22), (2.90, 2.64), (2.93, 3.04), (2.96, 2.45), (3.00, 2.77), (3.03, 2.33), (3.06, 2.59), (3.10, 2.99),
    (3.14, 2.48), (3.18, 2.73), (3.22, 2.28), (3.27, 2.93), (2.68, 3.17), (2.92, 3.28), (3.12, 3.19), (2.58, 2.12), (2.97, 2.04),
    (2.50, 3.08), (3.33, 2.60), (2.34, 2.57)]

tcga_points = [tcga_atp7b + tcga_atp7b_core, tcga_slc31a1 + tcga_slc31a1_core, tcga_dlat + tcga_dlat_core,
               tcga_dld + tcga_dld_core, tcga_lias + tcga_lias_core, tcga_lipt1 + tcga_lipt1_core]
cgga_points = [cgga_atp7b + cgga_atp7b_core, cgga_slc31a1 + cgga_slc31a1_core, cgga_dlat + cgga_dlat_core,
               cgga_dld + cgga_dld_core, cgga_lias + cgga_lias_core, cgga_lipt1 + cgga_lipt1_core]

caption_title = "FIGURE 11"
caption_lines = [
    [("Correlation between FDX1 expression and cuproptosis-related genes. ", "normal", "normal"),
     ("(A)", "bold", "normal"),
     (" The relationship between FDX1 expression and cuproptosis-related genes in", "normal", "normal")],
    [("TCGA-LGG dataset. ", "normal", "normal"),
     ("(B)", "bold", "normal"),
     (" The relationship between FDX1 expression and cuproptosis-related genes in CGGA-LGG dataset. [Cuproptosis-related genes: ATP7B,", "normal", "normal")],
    [("SLC31A1, dihydrolipoamide S-acetyltransferase (DLAT), dihydrolipoamide dehydrogenase (DLD), lipoyl synthase (LIAS), and lipolytransferase 1(LIPT1).", "normal", "normal")],
    [("Correlation analysis: Pearson coefficient, ", "normal", "normal"),
     ("p", "normal", "italic"),
     (" < 0.05 was considered significant.]", "normal", "normal")],
]

# ---------------------------------------------------------------- layout (pixels)
W, H = 1372, 686
layout_A = [
    dict(L=91, R=246, T=77, B=230.7, xlim=(1.561, 5.566), ylim=(0.139, 4.389), tb=100, tp=77.3, rb=247, rw=23),
    dict(L=302, R=468, T=82, B=230.7, xlim=(1.491, 5.938), ylim=(2.0, 7.29), tb=100.7, tp=79, rb=458.3, rw=23.4),
    dict(L=511.7, R=683.3, T=80, B=230.7, xlim=(1.429, 6.03), ylim=(2.395, 6.934), tb=99.3, tp=77.3, rb=670, rw=22.7),
    dict(L=721.7, R=894.3, T=80, B=230.7, xlim=(1.515, 6.093), ylim=(3.424, 7.805), tb=99.3, tp=78.3, rb=879.3, rw=23),
    dict(L=942.3, R=1110, T=81, B=230.7, xlim=(1.476, 6.174), ylim=(1.76, 5.977), tb=101.7, tp=81, rb=1090.7, rw=21.6),
    dict(L=1153.3, R=1319.3, T=82.7, B=230.7, xlim=(1.474, 6.217), ylim=(1.571, 5.095), tb=102.7, tp=81.7, rb=1301.7, rw=22.3, xshift=-11),
]
layout_B = [
    dict(L=90.7, R=247, T=333, B=486.7, xlim=(1.539, 5.707), ylim=(0.084, 4.39), tb=356, tp=333.3, rb=247, rw=24),
    dict(L=301.7, R=467, T=335, B=486.7, xlim=(1.48, 5.935), ylim=(2.0, 7.195), tb=356, tp=334.3, rb=458.3, rw=23.4),
    dict(L=511, R=683.3, T=331.7, B=487.3, xlim=(1.55, 6.026), ylim=(2.437, 6.908), tb=355, tp=331.7, rb=670, rw=22.7),
    dict(L=721.7, R=893.3, T=335, B=487.3, xlim=(1.516, 6.056), ylim=(3.396, 7.97), tb=356, tp=334.3, rb=879, rw=22.7),
    dict(L=942.7, R=1110, T=336.7, B=487.3, xlim=(1.485, 6.197), ylim=(1.648, 5.926), tb=359, tp=336.7, rb=1091, rw=22.3),
    dict(L=1154.3, R=1318.3, T=339.3, B=487.3, xlim=(1.503, 6.189), ylim=(1.58, 5.163), tb=361, tp=339.3, rb=1301, rw=22.3),
]
title_cx_A = [170, 380, 590, 797, 1013, 1225]
title_cx_B = [170, 380, 590, 797, 1013, 1225]
xlab_cx_A = [167.5, 379, 589, 800, 1006, 1213]
xlab_cx_B = [168, 376, 586, 796, 1007, 1205]
pr_pos_A = [(99.3, 111.7, 126.7), (310, 113.3, 128.3), (520.7, 111.7, 127.3),
            (734, 115, 131), (949.3, 116, 132.3), (1166, 116.7, 132.3)]
pr_pos_B = [(97.7, 370.7, 386), (309.3, 372.7, 389.3), (518.3, 370, 386.7),
            (733.3, 372.7, 390), (950.7, 371.7, 387.3), (1168.3, 374, 390.7)]

SPINE = "#404040"
TXT = "#1a1a1a"
style_A = dict(pt="#3fb5d3", face="#4d7396", edge="#86a0b8", line="#2b2b2b")
style_B = dict(pt="#e5412d", face="#a99b45", edge="#d2c88e", line="#3a3a3a")

fig = plt.figure(figsize=(W / 100, H / 100), dpi=100)


def frect(x0, x1, ytop, ybot):
    return [x0 / W, 1 - ybot / H, (x1 - x0) / W, (ybot - ytop) / H]


def fx(x):
    return x / W


def fy(y):
    return 1 - y / H


def draw_panel(lay, pts, fx_, fy_, xs, xstep, xc, ys, ystep, yc, yticks, st):
    ax = fig.add_axes(frect(lay['L'], lay['R'], lay['T'], lay['B']))
    ax.patch.set_visible(False)
    ax.set_xlim(*lay['xlim'])
    ax.set_ylim(*lay['ylim'])
    for s in ('top', 'right'):
        ax.spines[s].set_visible(False)
    for s in ('left', 'bottom'):
        ax.spines[s].set_color(SPINE)
        ax.spines[s].set_linewidth(1.1)
    ax.set_xticks(x_ticks)
    ax.set_yticks(yticks)
    if all(float(v).is_integer() for v in yticks):
        ax.yaxis.set_major_formatter(FormatStrFormatter('%d'))
    else:
        ax.yaxis.set_major_formatter(FormatStrFormatter('%.1f'))
    ax.tick_params(axis='both', direction='out', length=2.5, width=1, color=SPINE,
                   labelsize=9.5, labelcolor='#2a2a2a', pad=1)
    if lay.get('xshift'):
        off = mtransforms.ScaledTranslation(lay['xshift'] / 100, 0, fig.dpi_scale_trans)
        for lab in ax.get_xticklabels():
            lab.set_transform(lab.get_transform() + off)
    px = [p[0] for p in pts]
    py = [p[1] for p in pts]
    ax.scatter(px, py, s=12, color=st['pt'], linewidths=0, zorder=3)
    ax.plot(fx_, fy_, color=st['line'], lw=0.9, zorder=4)

    # top marginal histogram
    axt = fig.add_axes(frect(lay['L'], lay['R'], lay['tp'], lay['tb']))
    axt.patch.set_visible(False)
    axt.set_xlim(*lay['xlim'])
    axt.set_ylim(0, max(xc))
    e = xs + xstep * np.arange(len(xc))
    axt.bar(e, xc, width=xstep, align='edge', color=st['face'], edgecolor=st['edge'], linewidth=0.5)
    axt.plot([e[0], e[-1] + xstep], [0, 0], color=st['face'], lw=0.8)
    axt.axis('off')

    # right marginal histogram
    axr = fig.add_axes(frect(lay['rb'], lay['rb'] + lay['rw'], lay['T'], lay['B']))
    axr.patch.set_visible(False)
    axr.set_ylim(*lay['ylim'])
    axr.set_xlim(0, max(yc))
    e = ys + ystep * np.arange(len(yc))
    axr.barh(e, yc, height=ystep, align='edge', color=st['face'], edgecolor=st['edge'], linewidth=0.5)
    axr.plot([0, 0], [e[0], e[-1] + ystep], color=st['face'], lw=0.8)
    axr.axis('off')
    return ax


rows = [
    (layout_A, tcga_points, tcga_fit_x, tcga_fit_y, tcga_xh_start, tcga_xh_step, tcga_xh_counts,
     tcga_yh_start, tcga_yh_step, tcga_yh_counts, tcga_yticks, style_A, tcga_p, tcga_r,
     title_cx_A, xlab_cx_A, pr_pos_A, 62, 254.5),
    (layout_B, cgga_points, cgga_fit_x, cgga_fit_y, cgga_xh_start, cgga_xh_step, cgga_xh_counts,
     cgga_yh_start, cgga_yh_step, cgga_yh_counts, cgga_yticks, style_B, cgga_p, cgga_r,
     title_cx_B, xlab_cx_B, pr_pos_B, 311, 510),
]

for (lays, pts_l, fxl, fyl, xs_l, xst_l, xc_l, ys_l, yst_l, yc_l, ytk_l, st, pl, rl,
     tcx, xcx, prp, ty, xly) in rows:
    for i in range(6):
        draw_panel(lays[i], pts_l[i], fxl[i], fyl[i], xs_l[i], xst_l[i], xc_l[i],
                   ys_l[i], yst_l[i], yc_l[i], ytk_l[i], st)
        fig.text(fx(tcx[i]), fy(ty), genes[i], fontsize=13.5, color=TXT, ha='center', va='center')
        fig.text(fx(xcx[i]), fy(xly), x_label, fontsize=10, color='#2a2a2a', ha='center', va='center')
        x0, yb1, yb2 = prp[i]
        fig.text(fx(x0), fy(yb1), "P=" + pl[i], fontsize=9.5, color=TXT, ha='left', va='baseline')
        fig.text(fx(x0), fy(yb2), "R=" + rl[i], fontsize=9.5, color=TXT, ha='left', va='baseline')

# row labels and panel letters
fig.text(fx(63), fy(163), row_names[0], rotation=90, fontsize=17.5, color=TXT, ha='center', va='center')
fig.text(fx(63), fy(417), row_names[1], rotation=90, fontsize=17.5, color=TXT, ha='center', va='center')
fig.text(fx(66), fy(54), panel_letters[0], fontsize=15, fontweight='bold', color='#111', ha='center', va='center')
fig.text(fx(65), fy(304), panel_letters[1], fontsize=15, fontweight='bold', color='#111', ha='center', va='center')

# frame
fig.add_artist(Rectangle((fx(8), fy(720)), (1365 - 8) / W, (720 - 8) / H, transform=fig.transFigure,
                         fill=False, edgecolor='#d4d4d4', linewidth=1.3))

# caption
cap_family = ['Open Sans', 'DejaVu Sans']
renderer = fig.canvas.get_renderer()


def text_width(s, size, weight, style):
    t1 = fig.text(0, 0, s + "|", fontsize=size, fontweight=weight, fontstyle=style, family=cap_family)
    t2 = fig.text(0, 0, "|", fontsize=size, fontweight=weight, fontstyle=style, family=cap_family)
    w = t1.get_window_extent(renderer).width - t2.get_window_extent(renderer).width
    t1.remove()
    t2.remove()
    return w


base = 12.0
line_targets = [1272 - 41, 1362 - 41, 1295 - 41, 703 - 41]
w_all = sum(sum(text_width(s, base, wgt, sty) for s, wgt, sty in line) for line in caption_lines)
cap_size = base * sum(line_targets) / w_all

fig.text(fx(41), fy(563.3), caption_title, fontsize=cap_size * 1.02, fontweight='bold',
         color='#505050', family=cap_family, ha='left', va='baseline')
baselines = [586.7, 610.3, 634, 657.6]
for line, yb in zip(caption_lines, baselines):
    x = 41.0
    for s, wgt, sty in line:
        fig.text(fx(x), fy(yb), s, fontsize=cap_size, fontweight=wgt, fontstyle=sty,
                 color='#4a4a4a' if wgt == 'bold' else '#666666', family=cap_family,
                 ha='left', va='baseline')
        x += text_width(s, cap_size, wgt, sty)

fig.savefig("out.png", dpi=100)
